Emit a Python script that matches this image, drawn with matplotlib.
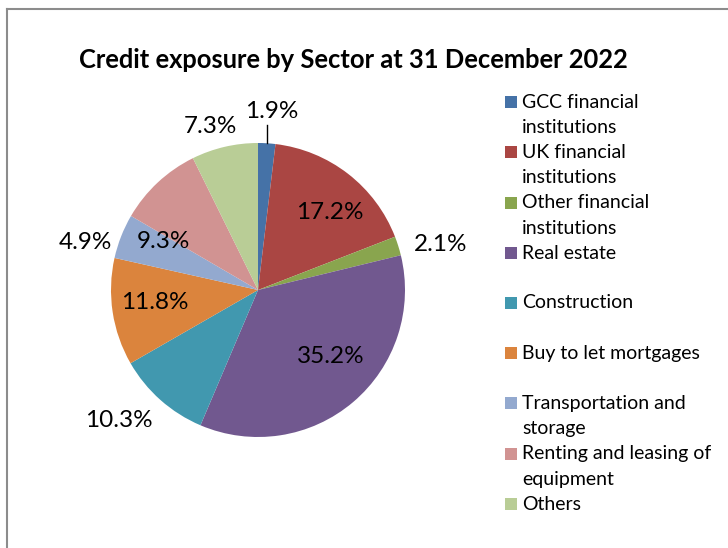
import numpy as np
import matplotlib
matplotlib.use("Agg")
import matplotlib.pyplot as plt
from matplotlib.lines import Line2D
from matplotlib.patches import Rectangle

plt.rcParams['font.family'] = ['Lato', 'DejaVu Sans']

# Sector shares of credit exposure (%)
sectors = [
    "GCC financial\ninstitutions",
    "UK financial\ninstitutions",
    "Other financial\ninstitutions",
    "Real estate",
    "Construction",
    "Buy to let mortgages",
    "Transportation and\nstorage",
    "Renting and leasing of\nequipment",
    "Others",
]
shares = [1.9, 17.2, 2.1, 35.2, 10.3, 11.8, 4.9, 9.3, 7.3]
colors = ["#4572A7", "#AA4643", "#89A54E", "#71588F", "#4198AF",
          "#DB843D", "#93A9CF", "#D19392", "#B9CD96"]

# Label placement: radial distance and angular nudge (degrees) per slice
label_r = [1.215, 0.72, 1.28, 0.67, 1.30, 0.71, 1.22, 0.72, 1.16]
label_dang = [-1.1, -5, -3.5, 7.5, -5.3, -1.6, 6.2, 20, 3]

W, H = 728, 548
fig = plt.figure(figsize=(W / 100, H / 100), dpi=100)

cx, cy, R = 258, 290, 147
ax = fig.add_axes([(cx - R) / W, (H - cy - R) / H, 2 * R / W, 2 * R / H])
wedges, _ = ax.pie(shares, colors=colors, startangle=90, counterclock=False,
                   radius=1.0, wedgeprops=dict(linewidth=0))
ax.set_xlim(-1, 1)
ax.set_ylim(-1, 1)
ax.set_aspect('equal')
ax.axis('off')

for w, val, r, da in zip(wedges, shares, label_r, label_dang):
    mid = 0.5 * (w.theta1 + w.theta2)
    a = np.deg2rad(mid + da)
    ax.text(r * np.cos(a), r * np.sin(a), f"{val:.1f}%", ha='center',
            va='center', fontsize=17.5, color='black', clip_on=False)

# Leader line for the thin first slice
m0 = np.deg2rad(0.5 * (wedges[0].theta1 + wedges[0].theta2))
x0 = np.cos(m0)
ax.add_line(Line2D([x0, x0], [np.sin(m0), 1.12], color='black', lw=1.0,
                   clip_on=False))

fig.text(353 / W, 1 - 60 / H, "Credit exposure by Sector at 31 December 2022",
         ha='center', va='center', fontsize=18.4, fontweight='bold')

# Legend: one block of two text lines per entry
line_h = 25.2
top = 102
for i, (lab, col) in enumerate(zip(sectors, colors)):
    y = top + i * 2 * line_h - (1 if i > 3 else 0)
    fig.patches.append(Rectangle(((505) / W, 1 - (y + 6) / H), 12 / W, 12 / H,
                                 transform=fig.transFigure, facecolor=col,
                                 edgecolor='none'))
    for j, part in enumerate(lab.split("\n")):
        fig.text(522 / W, 1 - (y + j * line_h) / H, part, ha='left',
                 va='center', fontsize=14)

# Chart frame
fig.add_artist(Line2D([7 / W, 7 / W], [0, 1 - 9 / H], transform=fig.transFigure,
                      color='#8c8c8c', lw=1.5))
fig.add_artist(Line2D([7 / W, 1], [1 - 9 / H, 1 - 9 / H],
                      transform=fig.transFigure, color='#8c8c8c', lw=1.5))

fig.savefig("out.png", dpi=100, facecolor='white')
